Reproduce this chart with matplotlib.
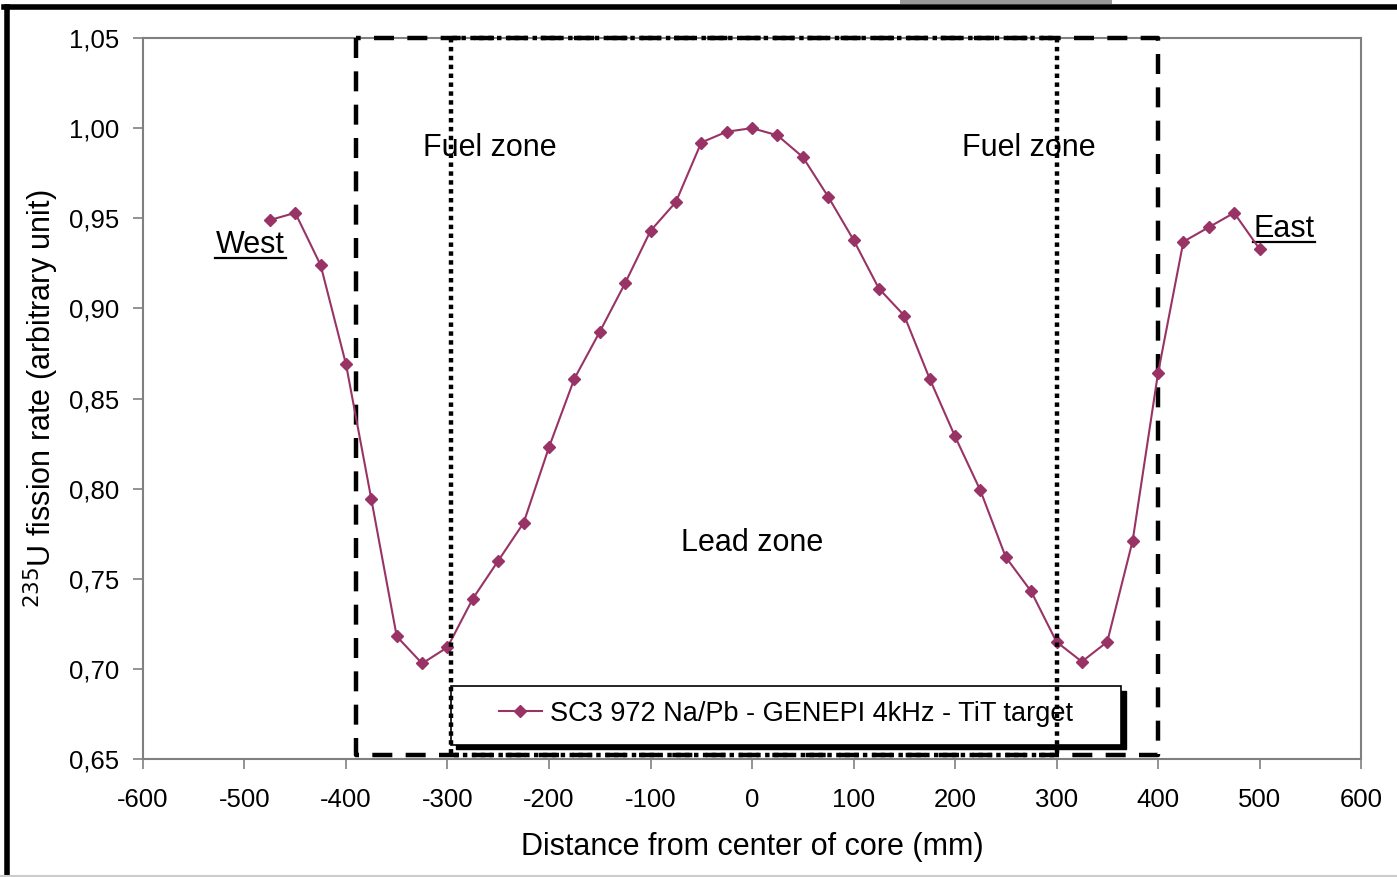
import matplotlib
matplotlib.use("Agg")
import matplotlib.pyplot as plt
from matplotlib.lines import Line2D
from matplotlib.patches import Rectangle
from matplotlib.ticker import FuncFormatter, MultipleLocator

plt.rcParams['font.family'] = ['Liberation Sans', 'DejaVu Sans']

# Measured 235U fission rate along the core traverse
distance_mm = [-475, -450, -425, -400, -375, -350, -325, -300, -275, -250,
               -225, -200, -175, -150, -125, -100, -75, -50, -25, 0,
               25, 50, 75, 100, 125, 150, 175, 200, 225, 250,
               275, 300, 325, 350, 375, 400, 425, 450, 475, 500]
fission_rate = [0.949, 0.953, 0.924, 0.869, 0.794, 0.718, 0.703, 0.712, 0.739, 0.760,
                0.781, 0.823, 0.861, 0.887, 0.914, 0.943, 0.959, 0.992, 0.998, 1.000,
                0.996, 0.984, 0.962, 0.938, 0.911, 0.896, 0.861, 0.829, 0.799, 0.762,
                0.743, 0.715, 0.704, 0.715, 0.771, 0.864, 0.937, 0.945, 0.953, 0.933]
series_label = "SC3 972 Na/Pb - GENEPI 4kHz - TiT target"

# Zone boundaries (mm)
outer_zone = (-390, 400)
fuel_inner = (-297, 300)
zone_bottom, zone_top = 0.652, 1.05

color = '#993366'
grid_gray = '#808080'

fig = plt.figure(figsize=(13.97, 8.77), dpi=100)
ax = fig.add_axes([143/1397, 1-759/877, 1218/1397, 721/877])

ax.plot(distance_mm, fission_rate, color=color, lw=1.5, marker='D', ms=6.5,
        mec=color, mfc=color, label=series_label, zorder=5)

ax.set_xlim(-600, 600)
ax.set_ylim(0.65, 1.05)
ax.xaxis.set_major_locator(MultipleLocator(100))
ax.yaxis.set_major_locator(MultipleLocator(0.05))
ax.yaxis.set_major_formatter(FuncFormatter(lambda v, p: f"{v:.2f}".replace('.', ',')))
ax.xaxis.set_major_formatter(FuncFormatter(lambda v, p: f"{v:.0f}"))
ax.tick_params(axis='both', direction='out', length=7, width=1.2, color=grid_gray,
               labelsize=18.5)
ax.tick_params(axis='x', pad=14)
ax.tick_params(axis='y', pad=10)
for s in ax.spines.values():
    s.set_color(grid_gray)
    s.set_linewidth(1.5)

ax.set_xlabel("Distance from center of core (mm)", fontsize=22, labelpad=14)
ax.set_ylabel(r"$^{235}$U fission rate (arbitrary unit)", fontsize=22, labelpad=6)

# Zone outlines
def outline(x0, x1, z, **kw):
    ax.plot([x0, x0, x1, x1, x0], [zone_top, zone_bottom, zone_bottom, zone_top, zone_top],
            color='black', clip_on=False, zorder=z, **kw)

outline(*outer_zone, 3, lw=3.2, ls=(0, (4.5, 3)))
outline(*fuel_inner, 8, lw=3.2, ls=(0, (1, 1)))

ax.text(-258, 0.989, "Fuel zone", fontsize=22, ha='center', va='center')
ax.text(273, 0.989, "Fuel zone", fontsize=22, ha='center', va='center')
ax.text(0, 0.770, "Lead zone", fontsize=22, ha='center', va='center')

# Underlined side labels (baseline position, underline width in mm)
for name, xc, yb, w in [("West", -494, 0.9305, 70), ("East", 524, 0.9395, 61)]:
    ax.text(xc, yb, name, fontsize=22, ha='center', va='baseline')
    ax.plot([xc - w/2, xc + w/2], [yb - 0.0025, yb - 0.0025], color='black', lw=1.6, zorder=4)

# Legend box with solid drop shadow
box_x0, box_x1 = -296.5, 363.5
box_y0, box_y1 = 0.658, 0.6905
dx_shadow, dy_shadow = 4.5, -0.0025
ax.add_patch(Rectangle((box_x0 + dx_shadow, box_y0 + dy_shadow), box_x1 - box_x0, box_y1 - box_y0,
                       facecolor='black', edgecolor='black', zorder=6, clip_on=False))
ax.add_patch(Rectangle((box_x0, box_y0), box_x1 - box_x0, box_y1 - box_y0,
                       facecolor='white', edgecolor='black', lw=1.2, zorder=6.5, clip_on=False))
leg = ax.legend(loc='center', bbox_to_anchor=((box_x0 + box_x1) / 2, (box_y0 + box_y1) / 2 + 0.0008),
                bbox_transform=ax.transData, fontsize=19.5, frameon=False,
                handlelength=1.6, handletextpad=0.3, borderpad=0, borderaxespad=0)
leg.set_zorder(7)

# Page frame
fig.add_artist(Line2D([6.5/1397, 6.5/1397], [0, 1-6.5/877], color='black', lw=4))
fig.add_artist(Line2D([4/1397, 1], [1-6.5/877, 1-6.5/877], color='black', lw=4))
fig.add_artist(Line2D([0, 1], [1.5/877, 1.5/877], color='#cccccc', lw=1.5))
fig.add_artist(Rectangle((900/1397, 1-3.5/877), 212/1397, 3.5/877, transform=fig.transFigure,
                         facecolor='#999999', edgecolor='none'))

fig.savefig("out.png", dpi=100)
